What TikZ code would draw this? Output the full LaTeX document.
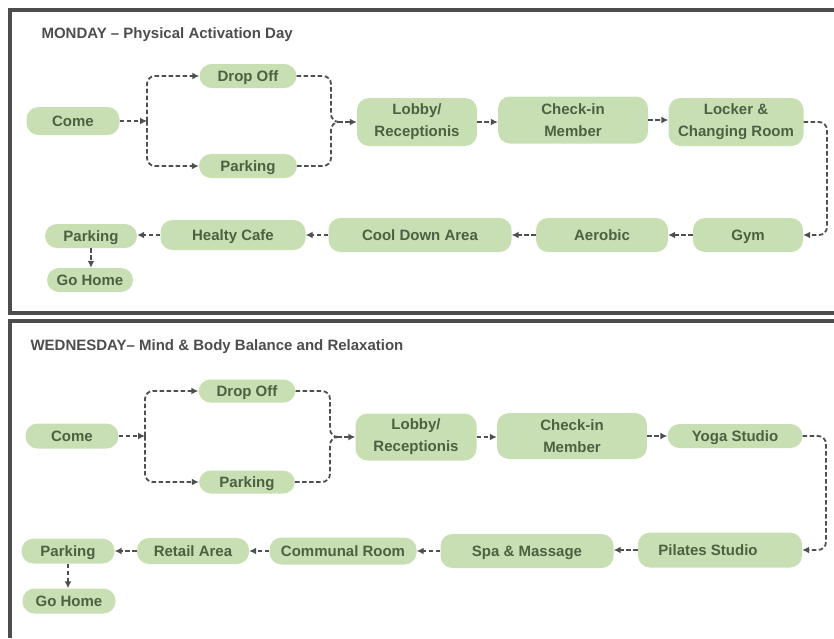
\documentclass[tikz,border=0pt]{standalone}
\usepackage{fontspec}
\setmainfont{Liberation Sans}
\usetikzlibrary{arrows.meta,positioning}
\usepackage{xcolor}
\definecolor{roomGreen}{HTML}{C8DFB4}
\definecolor{roomText}{HTML}{4B6142}
\definecolor{flowGrey}{HTML}{4F4F4F}
\definecolor{frameGrey}{HTML}{4D4D4D}

\tikzset{
  room/.style={fill=roomGreen,rounded corners=12pt,inner sep=0pt,align=center,text=roomText,font=\fontsize{15}{22}\selectfont\bfseries},
  oneline/.style={text height=10.5pt,text depth=0pt},
  link/.style={draw=flowGrey,line width=1.8pt,dash pattern=on 4.5pt off 2.5pt},
  daytitle/.style={anchor=base west,text=frameGrey,font=\fontsize{15}{18}\selectfont\bfseries},
}

\begin{document}
\begin{tikzpicture}[x=1pt,y=-1pt,>={Latex[length=7pt,width=7pt]}]
\useasboundingbox (0,0) rectangle (834,638);

% panels
\draw[frameGrey,line width=3.5pt] (834,10) -- (10,10) -- (10,313) -- (834,313);
\draw[frameGrey,line width=3.5pt] (834,321) -- (10,321) -- (10,638);

% Monday
\node[daytitle] (mtitle) at (38,38) {MONDAY – Physical Activation Day};
\node[room,oneline,minimum width=93,minimum height=28] (mcome) at (73,121) {Come};
\node[room,oneline,minimum width=97,minimum height=24] (mdrop) at (248,76) {Drop Off};
\node[room,oneline,minimum width=98,minimum height=24] (mpark) at (248,166) {Parking};
\node[room,minimum width=120,minimum height=48] (mlob) at (417,122) {Lobby/\\Receptionis};
\node[room,minimum width=150,minimum height=47] (mchk) at (573,120) {Check-in\\Member};
\node[room,minimum width=135,minimum height=48] (mlock) at (736,122) {Locker \&\\Changing Room};
\node[room,oneline,minimum width=110,minimum height=34] (mgym) at (748,235) {Gym};
\node[room,oneline,minimum width=132,minimum height=34] (maer) at (602,235) {Aerobic};
\node[room,oneline,minimum width=183,minimum height=34] (mcool) at (420,235) {Cool Down Area};
\node[room,oneline,minimum width=145,minimum height=30] (mcafe) at (233,235) {Healty Cafe};
\node[room,oneline,minimum width=92,minimum height=24] (mpark2) at (91,236) {Parking};
\node[room,oneline,minimum width=86,minimum height=24] (mhome) at (90,280) {Go Home};
\coordinate (msplit) at (147,121);
\coordinate (mjoin) at (331,122);
\coordinate (mjoin2) at (338,122);

% Wednesday
\node[daytitle] (wtitle) at (27,350) {WEDNESDAY– Mind \& Body Balance and Relaxation};
\node[room,oneline,minimum width=93,minimum height=25] (wcome) at (72,436) {Come};
\node[room,oneline,minimum width=97,minimum height=23] (wdrop) at (247,391) {Drop Off};
\node[room,oneline,minimum width=96,minimum height=23] (wpark) at (247,482) {Parking};
\node[room,minimum width=121,minimum height=47] (wlob) at (416,437) {Lobby/\\Receptionis};
\node[room,minimum width=150,minimum height=46] (wchk) at (572,436) {Check-in\\Member};
\node[room,oneline,minimum width=135,minimum height=24] (wyoga) at (735,436) {Yoga Studio};
\node[room,oneline,minimum width=164,minimum height=35] (wpil) at (720,550) {Pilates Studio\hspace*{24pt}};
\node[room,oneline,minimum width=173,minimum height=34] (wspa) at (527,551) {Spa \& Massage};
\node[room,oneline,minimum width=147,minimum height=27] (wcomm) at (343,551) {Communal Room};
\node[room,oneline,minimum width=112,minimum height=26] (wret) at (193,551) {Retail Area};
\node[room,oneline,minimum width=93,minimum height=25] (wpark2) at (68,551) {Parking};
\node[room,oneline,minimum width=93,minimum height=25] (whome) at (69,601) {Go Home};
\coordinate (wsplit) at (145,436);
\coordinate (wjoin) at (330,437);
\coordinate (wjoin2) at (337,437);

% split and merge
\foreach \d in {m,w}{
  \draw[link,->] (\d come) -- (\d split);
  \draw[link,->,rounded corners=8pt] (\d split) |- (\d drop);
  \draw[link,->,rounded corners=8pt] (\d split) |- (\d park);
  \draw[link,rounded corners=8pt] (\d drop.east) -| (\d join) -- (\d join2);
  \draw[link,rounded corners=8pt] (\d park.east) -| (\d join) -- (\d join2);
  \draw[link,->] (\d join2) -- (\d join2 -| \d lob.west);
  \draw[link,->] (\d park2.south) -- (\d park2.south |- \d home.north);
}

% chains
\foreach \a/\b in {mlob/mchk,mchk/mlock,wlob/wchk,wchk/wyoga}
  \draw[link,->] (\a.east) -- (\a.east -| \b.west);
\foreach \a/\b in {mgym/maer,maer/mcool,mcool/mcafe,mcafe/mpark2,wpil/wspa,wspa/wcomm,wcomm/wret,wret/wpark2}
  \draw[link,->] (\a.west) -- (\a.west -| \b.east);

% turn to second row
\draw[link,->,rounded corners=8pt] (mlock.east) -- (827,122) |- (mgym.east);
\draw[link,->,rounded corners=8pt] (wyoga.east) -- (826,436) |- (wpil.east);
\end{tikzpicture}
\end{document}
